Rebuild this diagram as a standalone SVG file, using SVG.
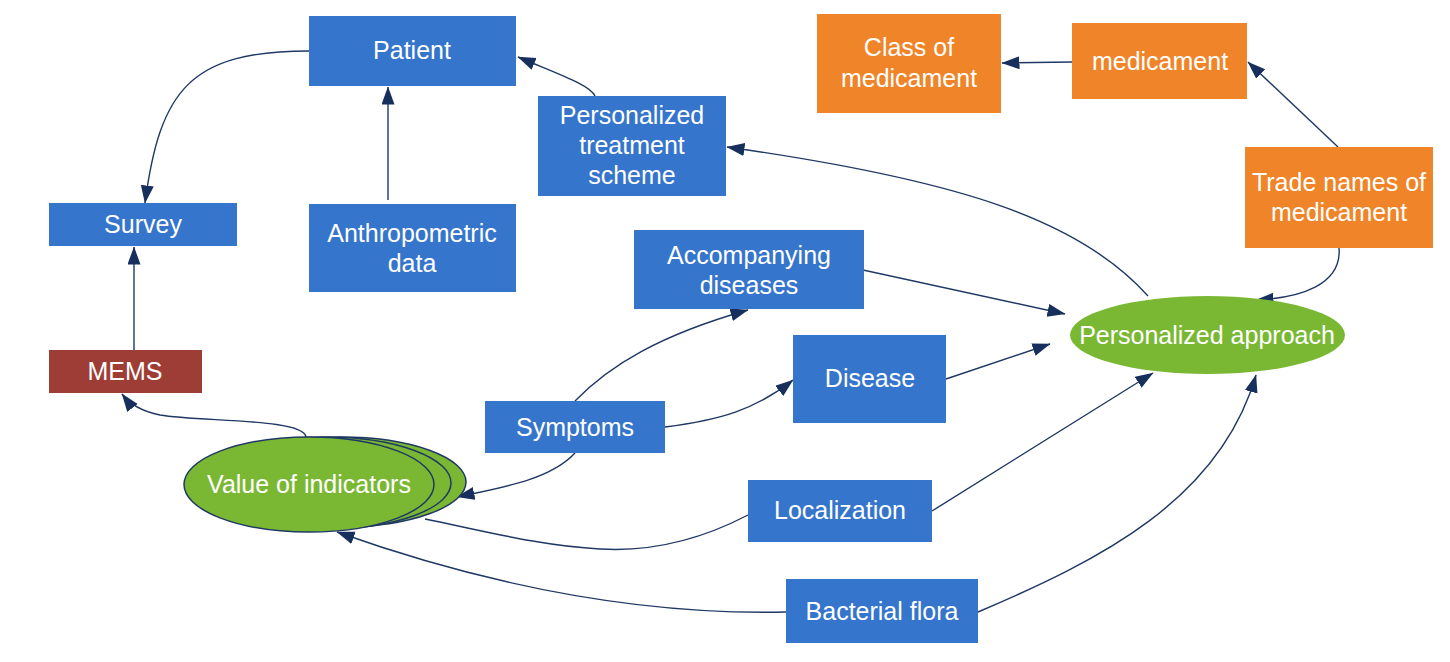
<svg xmlns="http://www.w3.org/2000/svg" width="1450" height="662" viewBox="0 0 1450 662">
<style>
.blue{fill:#3575CC}
.orange{fill:#F08428}
.red{fill:#9E3C36}
.green{fill:#7AB834}
.ell{fill:#7AB834;stroke:#1F3864;stroke-width:1.5}
text{font-family:"Liberation Sans",Arial,sans-serif;font-size:25px;fill:#FFFFFF;text-anchor:middle}
.conn path{fill:none;stroke:#1F3864;stroke-width:1.4}
</style>
<defs>
<marker id="arr" markerUnits="userSpaceOnUse" markerWidth="19" markerHeight="14" refX="17.5" refY="6.5" orient="auto">
<path d="M0,0 L18,6.5 L0,13 z" fill="#172F5C"/>
</marker>
</defs>
<rect width="1450" height="662" fill="#FFFFFF"/>

<g id="connectors" class="conn">
<path d="M309,51 C190,51 160,90 145,203" marker-end="url(#arr)"/>
<path d="M388,200 L388,87" marker-end="url(#arr)"/>
<path d="M134,350 L134,247" marker-end="url(#arr)"/>
<path d="M306,437 C304,418 200,422 160,415 C140,411 128,402 122,394" marker-end="url(#arr)"/>
<path d="M595,96 C590,85 560,75 518,57" marker-end="url(#arr)"/>
<path d="M1148,296 C1080,220 960,180 727,147" marker-end="url(#arr)"/>
<path d="M863,270 L1065,314" marker-end="url(#arr)"/>
<path d="M946,379 L1050,344" marker-end="url(#arr)"/>
<path d="M932,511 L1153,373" marker-end="url(#arr)"/>
<path d="M978,612 C1100,560 1220,500 1256,375" marker-end="url(#arr)"/>
<path d="M1339,248 C1342,285 1300,298 1256,300" marker-end="url(#arr)"/>
<path d="M1338,147 L1248,62" marker-end="url(#arr)"/>
<path d="M1072,62 L1002,63" marker-end="url(#arr)"/>
<path d="M575,401 C610,365 660,335 748,310" marker-end="url(#arr)"/>
<path d="M665,427 C720,420 755,410 793,380" marker-end="url(#arr)"/>
<path d="M575,453 C550,480 500,488 457,497" marker-end="url(#arr)"/>
<path d="M748,515 C700,540 650,552 600,549 C540,546 480,530 425,519"/>
<path d="M786,612 C650,615 500,590 337,532" marker-end="url(#arr)"/>
</g>

<g id="patient"><rect class="blue" x="309" y="16" width="207" height="70"/><text x="412" y="59">Patient</text></g>
<g id="survey"><rect class="blue" x="49" y="203" width="188" height="43"/><text x="143" y="233">Survey</text></g>
<g id="anthropometric"><rect class="blue" x="309" y="204" width="207" height="88"/><text x="412" y="242">Anthropometric</text><text x="412" y="272">data</text></g>
<g id="mems"><rect class="red" x="49" y="350" width="153" height="43"/><text x="125" y="380">MEMS</text></g>
<g id="treatment"><rect class="blue" x="538" y="96" width="188" height="100"/><text x="632" y="124">Personalized</text><text x="632" y="154">treatment</text><text x="632" y="184">scheme</text></g>
<g id="class-medicament"><rect class="orange" x="817" y="14" width="184" height="99"/><text x="909" y="56">Class of</text><text x="909" y="87">medicament</text></g>
<g id="medicament"><rect class="orange" x="1072" y="23" width="175" height="76"/><text x="1160" y="70">medicament</text></g>
<g id="trade-names"><rect class="orange" x="1245" y="147" width="188" height="101"/><text x="1339" y="191">Trade names of</text><text x="1339" y="221">medicament</text></g>
<g id="accompanying"><rect class="blue" x="634" y="230" width="230" height="79"/><text x="749" y="264">Accompanying</text><text x="749" y="294">diseases</text></g>
<g id="disease"><rect class="blue" x="793" y="335" width="153" height="88"/><text x="870" y="387">Disease</text></g>
<g id="symptoms"><rect class="blue" x="485" y="401" width="180" height="52"/><text x="575" y="436">Symptoms</text></g>
<g id="localization"><rect class="blue" x="748" y="480" width="184" height="62"/><text x="840" y="519">Localization</text></g>
<g id="bacterial"><rect class="blue" x="786" y="579" width="192" height="64"/><text x="882" y="620">Bacterial flora</text></g>
<g id="approach"><ellipse class="green" cx="1207.5" cy="335" rx="137.5" ry="39"/><text x="1207" y="344">Personalized approach</text></g>
<g id="indicators">
<ellipse class="ell" cx="341" cy="482" rx="125" ry="45"/>
<ellipse class="ell" cx="326" cy="483" rx="125" ry="46"/>
<ellipse class="ell" cx="309" cy="484.5" rx="125" ry="47.5"/>
<text x="309" y="493">Value of indicators</text>
</g>
</svg>
